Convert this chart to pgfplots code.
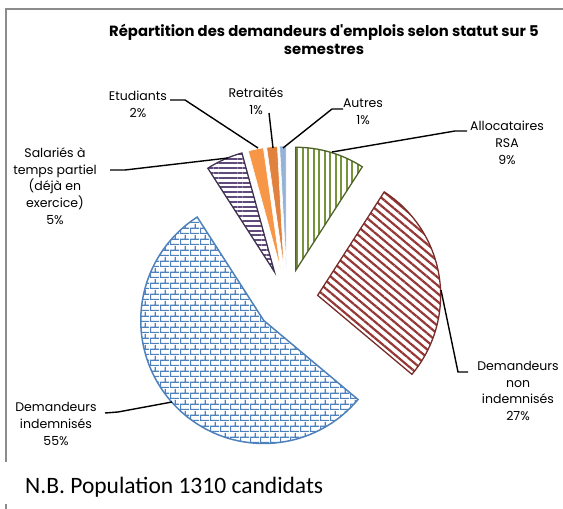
\documentclass[border=0pt]{standalone}
\usepackage{fontspec}
\setmainfont{Poppins}
\newfontfamily\nbfont{Carlito}
\usepackage{pgfplots}
\pgfplotsset{compat=1.18}
\usepackage{pgfplotstable}
\usetikzlibrary{patterns.meta}

\definecolor{cgreen}{HTML}{77933C}
\definecolor{cgreenD}{HTML}{4F6228}
\definecolor{cred}{HTML}{953735}
\definecolor{credD}{HTML}{772C2A}
\definecolor{cblue}{HTML}{4F81BD}
\definecolor{cpurp}{HTML}{604A7B}
\definecolor{cpurpD}{HTML}{403152}
\definecolor{corange}{HTML}{F79646}
\definecolor{corangeD}{HTML}{E0823D}
\definecolor{cltblue}{HTML}{95B3D7}
\definecolor{cframe}{HTML}{8C8C8C}

\tikzdeclarepattern{
  name=ExcelBricks,
  type=uncolored,
  bounding box={(0,0) and (10bp,11bp)},
  tile size={(10bp,11bp)},
  code={
    \pgfsetlinewidth{1.3bp}
    \pgfpathmoveto{\pgfqpoint{0bp}{0.65bp}}\pgfpathlineto{\pgfqpoint{10bp}{0.65bp}}
    \pgfpathmoveto{\pgfqpoint{0bp}{6.15bp}}\pgfpathlineto{\pgfqpoint{10bp}{6.15bp}}
    \pgfpathmoveto{\pgfqpoint{0.65bp}{0.65bp}}\pgfpathlineto{\pgfqpoint{0.65bp}{6.15bp}}
    \pgfpathmoveto{\pgfqpoint{5.65bp}{6.15bp}}\pgfpathlineto{\pgfqpoint{5.65bp}{11bp}}
    \pgfusepath{stroke}
  }
}

% share of each status (percent), clockwise from 12 o'clock
\pgfplotstableread{
value
9.1
27.0
54.8
4.85
2.0
1.4
0.85
}\piedata

\tikzset{
  slice0/.style={draw=cgreenD, line width=1.3bp, pattern={Lines[angle=90,distance=5.5bp,line width=2bp]}, pattern color=cgreen},
  slice1/.style={draw=credD, line width=1.3bp, pattern={Lines[angle=-40,distance=6.2bp,line width=2.2bp]}, pattern color=cred},
  slice2/.style={draw=cblue, line width=1.5bp, pattern=ExcelBricks, pattern color=cblue},
  slice3/.style={draw=cpurpD, line width=1.3bp, pattern={Lines[angle=0,distance=4.8bp,line width=2bp]}, pattern color=cpurp},
  slice4/.style={fill=corange, draw=white, line width=0.6bp},
  slice5/.style={fill=corangeD, draw=white, line width=0.6bp},
  slice6/.style={fill=cltblue, draw=white, line width=0.6bp},
  lbl/.style={font=\fontsize{12.5bp}{16.8bp}\selectfont, align=center, inner sep=0pt},
  leader/.style={black, line width=1.4bp},
}

\begin{document}
\begin{tikzpicture}
% compute slice angles from the table
\xdef\angcur{90}
\foreach \i in {0,...,6}{
  \pgfplotstablegetelem{\i}{value}\of\piedata
  \pgfmathsetmacro\sa{\angcur}
  \pgfmathsetmacro\sb{\angcur-3.6*\pgfplotsretval}
  \pgfmathsetmacro\sm{(\sa+\sb)/2}
  \pgfmathsetmacro\vx{287+31*cos(\sm)}
  \pgfmathsetmacro\vy{209+31*sin(\sm)}
  \expandafter\xdef\csname sa\i\endcsname{\sa}
  \expandafter\xdef\csname sb\i\endcsname{\sb}
  \expandafter\xdef\csname vx\i\endcsname{\vx}
  \expandafter\xdef\csname vy\i\endcsname{\vy}
  \xdef\angcur{\sb}
}
\begin{axis}[
  at={(0,0)}, anchor=south west,
  width=563bp, height=509bp, scale only axis,
  xmin=0, xmax=563, ymin=0, ymax=509,
  hide axis, clip=false,
]
% frame
\draw[cframe, line width=2.5bp] (axis cs:6,47) -- (axis cs:6,500) -- (axis cs:563,500);
\draw[cframe, line width=2.5bp] (axis cs:6,0) -- (axis cs:6,5);

\pgfplotsinvokeforeach{0,1,2,3,4,5,6}{
  \edef\tmp{\noexpand\filldraw[slice#1] (axis cs:\csname vx#1\endcsname,\csname vy#1\endcsname) -- ++(\csname sa#1\endcsname:123bp) arc[start angle=\csname sa#1\endcsname, end angle=\csname sb#1\endcsname, radius=123bp] -- cycle;}
  \tmp
}

% title
\node[font=\bfseries\fontsize{14.8bp}{18bp}\selectfont, align=center, inner sep=0pt] at (axis cs:324,470) {Répartition des demandeurs d\textquotesingle emplois selon statut sur 5\\semestres};

% labels and leaders
\node[lbl] at (axis cs:507,366) {Allocataires\\RSA\\9\%};
\draw[leader] (axis cs:467,378) -- (axis cs:455,378) -- (axis cs:332,357);

\node[lbl] at (axis cs:363,397) {Autres\\1\%};
\draw[leader] (axis cs:343,400) -- (axis cs:332,400) -- (axis cs:283,361);

\node[lbl] at (axis cs:256,408) {Retraités\\1\%};
\draw[leader] (axis cs:269,396) -- (axis cs:273,361);

\node[lbl] at (axis cs:138,405) {Etudiants\\2\%};
\draw[leader] (axis cs:170,409) -- (axis cs:185,409) -- (axis cs:258,361);

\node[lbl] at (axis cs:55,323) {Salariés à\\temps partiel\\(déjà en\\exercice)\\5\%};
\draw[leader] (axis cs:110,339) -- (axis cs:125,339) -- (axis cs:228,351);

\node[lbl] at (axis cs:518,118) {Demandeurs\\non\\indemnisés\\27\%};
\draw[leader] (axis cs:468,137) -- (axis cs:458,137) -- (axis cs:441,219);

\node[lbl] at (axis cs:56,85) {Demandeurs\\indemnisés\\55\%};
\draw[leader] (axis cs:105,96) -- (axis cs:118,97) -- (axis cs:172,107);

% note
\node[font=\nbfont\fontsize{23.5bp}{27bp}\selectfont, anchor=base west, inner sep=0pt] at (axis cs:25,16) {N.B. Population 1310 candidats};
\end{axis}
\pgfresetboundingbox
\useasboundingbox (0,0) rectangle (563bp,509bp);
\end{tikzpicture}
\end{document}
